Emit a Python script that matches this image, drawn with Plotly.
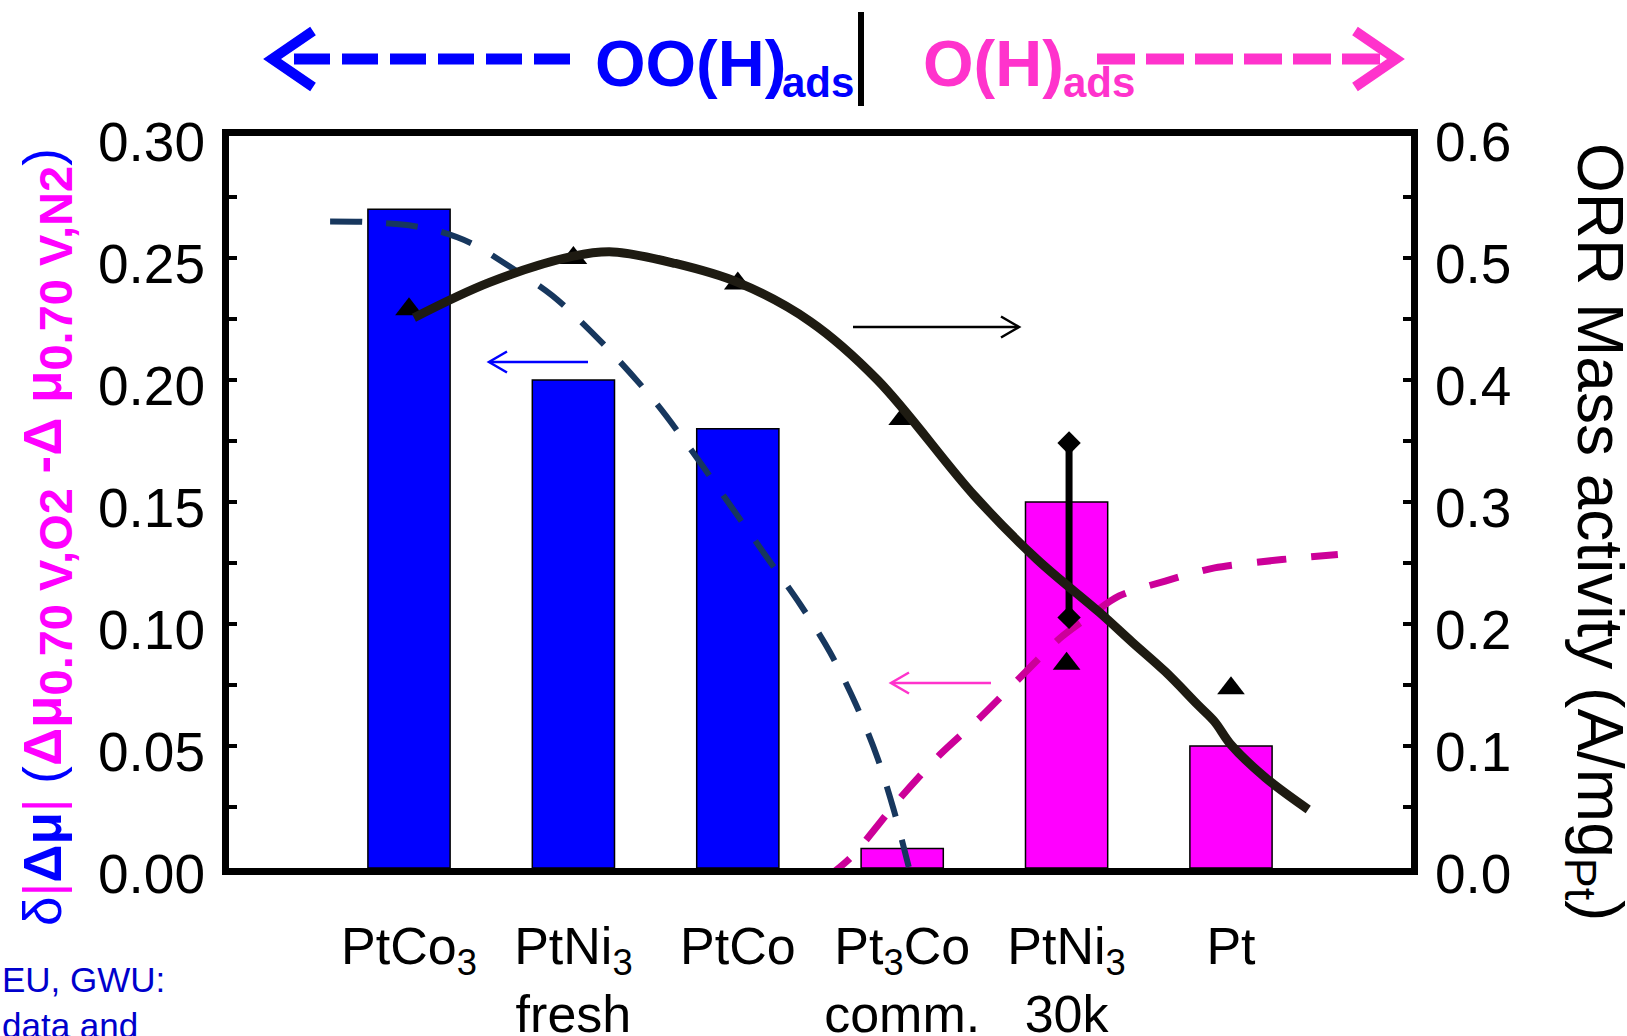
import plotly.graph_objects as go

# ---------------- data ----------------
categories = ["PtCo<sub>3</sub>", "PtNi<sub>3</sub><br>fresh", "PtCo",
              "Pt<sub>3</sub>Co<br>comm.", "PtNi<sub>3</sub><br>30k", "Pt"]
cat_pos = [0, 1, 2, 3, 4, 5]
delta_mu = [0.27, 0.20, 0.18, 0.008, 0.15, 0.05]          # left axis bars
mass_activity = [0.458, 0.50, 0.479, 0.368, 0.1675, 0.1474]  # right axis triangles
err_low_high = [0.2054, 0.3484]                              # PtNi3 30k range

# black fitted curve (right axis)
fit_x = [0.03, 0.49, 1.0, 1.24, 1.62, 2.0, 2.44, 2.85, 3.44,
         3.82, 4.20, 4.40, 4.60, 4.80, 4.90, 5.00, 5.21, 5.47]
fit_y = [0.451, 0.480, 0.5015, 0.505, 0.4955, 0.480, 0.448, 0.400, 0.305,
         0.253, 0.2095, 0.185, 0.161, 0.1335, 0.120, 0.101, 0.074, 0.048]

# OO(H)ads trend (left axis, navy dashed)
oo_x = [-0.48, -0.28, 0.0, 0.2, 0.38, 0.6, 0.87, 1.18, 1.5, 1.72, 1.94, 2.17,
        2.38, 2.56, 2.72, 2.85, 2.95, 3.04]
oo_y = [0.265, 0.2648, 0.2634, 0.2606, 0.256, 0.247, 0.2347, 0.2149, 0.1908,
        0.171, 0.150, 0.128, 0.108, 0.0885, 0.0668, 0.0451, 0.0235, 0.0004]

# O(H)ads trend (left axis, magenta dashed)
o_x = [2.54, 2.69, 2.99, 3.23, 3.47, 3.71, 3.955, 4.10, 4.32, 4.60, 4.90, 5.31, 5.65]
o_y = [-0.004, 0.0045, 0.0289, 0.0465, 0.0614, 0.0776, 0.0939, 0.1013, 0.1115,
       0.1176, 0.1230, 0.1264, 0.1285]

left_ticks = [0.0, 0.05, 0.10, 0.15, 0.20, 0.25, 0.30]
right_ticks = [0.0, 0.1, 0.2, 0.3, 0.4, 0.5, 0.6]

# ---------------- layout geometry ----------------
W, H = 1627, 1036
L, R, T, B = 229, 216, 136, 168
PW = W - L - R
PH = H - T - B


def px(x):
    return (x - L) / PW


def py(y):
    return (H - B - y) / PH


BLUE = "#0000FF"
MAG = "#FF00FF"
PINK = "#FF33CC"
FONT = "Arial, Liberation Sans, sans-serif"

fig = go.Figure()

fig.add_trace(go.Bar(x=cat_pos, y=delta_mu, width=0.5,
                     marker=dict(color=[BLUE] * 3 + [MAG] * 3,
                                 line=dict(color="black", width=1.5)),
                     yaxis="y", showlegend=False, hoverinfo="skip"))

fig.add_trace(go.Scatter(x=cat_pos, y=mass_activity, mode="markers", yaxis="y2",
                         marker=dict(symbol="triangle-up", size=24, color="black"),
                         showlegend=False, hoverinfo="skip"))

fig.add_trace(go.Scatter(x=[cat_pos[4] + 0.015] * 2, y=err_low_high, mode="lines+markers",
                         yaxis="y2", line=dict(color="black", width=7),
                         marker=dict(symbol="diamond", size=18, color="black"),
                         showlegend=False, hoverinfo="skip"))

fig.add_trace(go.Scatter(x=oo_x, y=oo_y, mode="lines", yaxis="y",
                         line=dict(color="#17375E", width=6, dash="32px,24px",
                                   shape="spline", smoothing=0.9),
                         showlegend=False, hoverinfo="skip"))

fig.add_trace(go.Scatter(x=o_x, y=o_y, mode="lines", yaxis="y",
                         line=dict(color="#CC0099", width=7, dash="30px,25px",
                                   shape="spline", smoothing=0.8),
                         showlegend=False, hoverinfo="skip"))

fig.add_trace(go.Scatter(x=fit_x, y=fit_y, mode="lines", yaxis="y2",
                         line=dict(color="#1E1B12", width=9, shape="spline", smoothing=1.0),
                         showlegend=False, hoverinfo="skip"))

tickfont = dict(family=FONT, size=55, color="black")

fig.update_layout(
    width=W, height=H,
    margin=dict(l=L, r=R, t=T, b=B, pad=0, autoexpand=False),
    paper_bgcolor="white", plot_bgcolor="white",
    xaxis=dict(range=[-1.095, 6.095], tickvals=cat_pos, ticktext=categories,
               showline=True, mirror=True, linewidth=7, linecolor="black",
               ticks="", showgrid=False, zeroline=False,
               tickfont=dict(family=FONT, size=52, color="black"),
               ticklabelstandoff=27, automargin=False),
    yaxis=dict(range=[0, 0.3], tickvals=left_ticks, tickformat=".2f",
               ticks="inside", ticklen=8, tickwidth=4, tickcolor="black",
               minor=dict(dtick=0.025, tick0=0, ticks="inside", ticklen=8, tickwidth=4,
                          tickcolor="black", showgrid=False),
               showline=True, mirror=True, linewidth=7, linecolor="black",
               showgrid=False, zeroline=False, tickfont=tickfont,
               ticklabelstandoff=6, ticklabelshift=6, automargin=False),
    yaxis2=dict(range=[0, 0.6], tickvals=right_ticks, tickformat=".1f",
                overlaying="y", side="right",
                ticks="inside", ticklen=8, tickwidth=4, tickcolor="black",
                minor=dict(dtick=0.05, tick0=0, ticks="inside", ticklen=8, tickwidth=4,
                           tickcolor="black", showgrid=False),
                showline=True, linewidth=7, linecolor="black",
                showgrid=False, zeroline=False, tickfont=tickfont,
                ticklabelstandoff=6, ticklabelshift=6, automargin=False),
    font=dict(family=FONT),
)

shapes = []


def seg(x0, y0, x1, y1, color, width, dash="solid"):
    shapes.append(dict(type="line", xref="paper", yref="paper",
                       x0=px(x0), y0=py(y0), x1=px(x1), y1=py(y1),
                       line=dict(color=color, width=width, dash=dash), layer="above"))


def chevron(pts, color, width):
    path = "M " + " L ".join(f"{px(a):.5f},{py(b):.5f}" for a, b in pts)
    shapes.append(dict(type="path", xref="paper", yref="paper", path=path,
                       line=dict(color=color, width=width), layer="above"))


# top direction arrows
seg(570, 59, 294, 59, BLUE, 11, "36px,12px")
chevron([(313, 31), (272, 59), (313, 87)], BLUE, 10)
seg(1097, 59, 1380, 59, PINK, 11, "38px,11px")
chevron([(1355, 31), (1396, 59), (1355, 87)], PINK, 10)
seg(861, 12, 861, 106, "black", 6)

# inner axis-pointing arrows
seg(588, 362, 490, 362, BLUE, 2.5)
chevron([(507, 351.5), (489, 362), (507, 372.5)], BLUE, 2.5)
seg(853, 327, 1018, 327, "black", 2.5)
chevron([(1001, 316.5), (1019, 327), (1001, 337.5)], "black", 2.5)
seg(991, 683, 892, 683, PINK, 2.5)
chevron([(909, 672.5), (891, 683), (909, 693.5)], PINK, 2.5)

fig.update_layout(shapes=shapes)

ann = []


def text(x, y, s, size, color, xanchor="left", yanchor="middle", angle=0, bold=False):
    if bold:
        s = "<b>" + s + "</b>"
    ann.append(dict(xref="paper", yref="paper", x=px(x), y=py(y), text=s,
                    showarrow=False, xanchor=xanchor, yanchor=yanchor, textangle=angle,
                    font=dict(family=FONT, size=size, color=color)))


text(593, 64, "OO(H)", 65, BLUE, bold=True)
text(780, 82, "ads", 42, BLUE, bold=True)
text(921, 64, "O(H)", 65, PINK, bold=True)
text(1061, 82, "ads", 42, PINK, bold=True)

# left axis title (multi-coloured)
sub = lambda s: f"<sub><span style='font-size:47px'>{s}</span></sub>"
left_title = (f"<span style='color:{BLUE}'>δ</span>"
              f"<span style='color:{MAG}'>|</span>"
              f"<span style='color:{BLUE}'><b>Δμ</b></span>"
              f"<span style='color:{MAG}'>|</span>"
              f"<span style='color:{BLUE}'> (</span>"
              f"<span style='color:{MAG}'><b>Δμ{sub('0.70 V,O2')} -Δ μ{sub('0.70 V,N2')}</b></span>"
              f"<span style='color:{BLUE}'>)</span>")
text(47, 537, left_title, 53, BLUE, xanchor="center", yanchor="middle", angle=-90)

text(1596, 532, "ORR Mass activity (A/mg<sub>Pt</sub>)", 64, "black",
     xanchor="center", yanchor="middle", angle=90)

ann.append(dict(xref="paper", yref="paper", x=px(0), y=py(958),
                text="EU, GWU:<br>data and", showarrow=False, align="left",
                xanchor="left", yanchor="top",
                font=dict(family=FONT, size=35, color="#0000CC")))

fig.update_layout(annotations=ann)

fig.write_html("out.html", config={"displayModeBar": False},
               post_script="document.body.style.margin='0';")
